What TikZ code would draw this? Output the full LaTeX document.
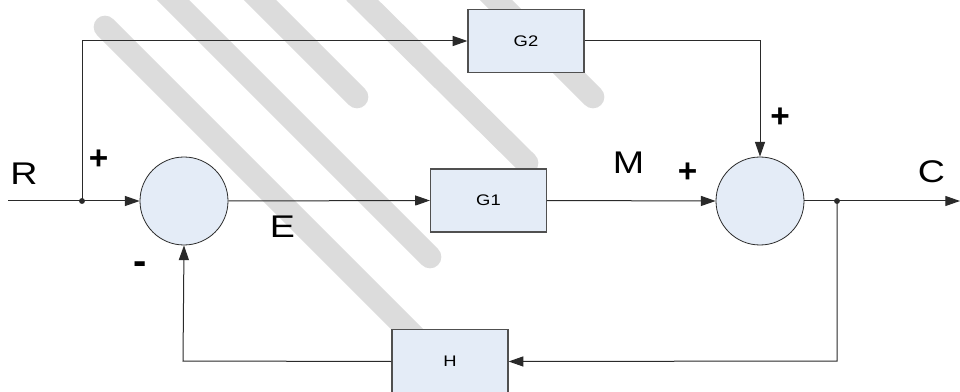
\documentclass[tikz,border=0pt]{standalone}
\usepackage{fontspec}
\setmainfont{Liberation Sans}
\usetikzlibrary{arrows.meta}
\definecolor{boxfill}{HTML}{E4ECF7}
\definecolor{stripec}{HTML}{DCDCDC}
\definecolor{linec}{HTML}{2A2A2A}
\definecolor{boxline}{HTML}{505050}
\newcommand{\wtxt}[1]{\scalebox{1.2}[1]{#1}}
\begin{document}
\begin{tikzpicture}[x=0.75pt,y=-0.75pt,
  blk/.style={draw=boxline, fill=boxfill, line width=0.9pt, minimum width=87pt, minimum height=47.25pt, inner sep=0pt, font=\fontsize{11.5}{13}\selectfont},
  sumc/.style={circle, draw=linec, fill=boxfill, line width=0.6pt, minimum size=66pt, inner sep=0pt},
  wire/.style={draw=linec, line width=0.75pt},
  arr/.style={wire, -{Triangle[length=11pt,width=7.5pt]}},
  lbl/.style={font=\fontsize{23.5}{26}\selectfont, inner sep=0pt},
  sgn/.style={font=\fontsize{25}{28}\selectfont\bfseries, inner sep=0pt},
  wm/.style={line width=17pt, line cap=round, draw=stripec}]
\useasboundingbox (0,0) rectangle (960,392);
\fill[white] (0,0) rectangle (960,392);
% watermark stripes
\draw[wm] (105,27) -- (430,352);
\draw[wm] (160,-13) -- (430,257);
\draw[wm] (250,-10) -- (357,97);
\draw[wm] (355,-7) -- (527,163);
\draw[wm] (483,-13) -- (593,97);
% blocks
\node[sumc] (s1) at (184,201) {};
\node[sumc] (s2) at (760,201) {};
\node[blk] (g1) at (488.5,200.5) {\wtxt{G1}};
\node[blk] (g2) at (526,41) {\wtxt{G2}};
\node[blk,minimum height=48pt] (h) at (450,361.5) {\wtxt{H}};
% coordinates
\coordinate (in) at (8,201);
\coordinate (j1) at (82,201);
\coordinate (t1) at (82,41);
\coordinate (t2) at (760,41);
\coordinate (j2) at (837,201);
\coordinate (out) at (960,201);
\coordinate (b1) at (837,361);
\coordinate (b2) at (183,361);
% wires
\draw[wire] (in) -- (j1);
\draw[arr] (j1) -- (s1.west);
\draw[arr] (j1) -- (t1) -- (g2.west);
\draw[arr] (g2.east) -- (t2) -- (s2.north);
\draw[arr] (s1.east) -- (g1.west);
\draw[arr] (g1.east) -- (s2.west);
\draw[wire] (s2.east) -- (j2);
\draw[arr] (j2) -- (out);
\draw[arr] (j2) -- (b1) -- (h.east);
\draw[arr] (h.west) -- (b2) -- (s1.south);
\fill[linec] (j1) circle (2.2pt);
\fill[linec] (j2) circle (2.2pt);
% labels
\node[lbl] (lR) at (24,174) {\wtxt{R}};
\node[lbl] (lE) at (282.5,226.5) {\wtxt{E}};
\node[lbl] (lM) at (628.5,162.5) {\wtxt{M}};
\node[lbl] (lC) at (931.5,171.5) {\wtxt{C}};
\node[sgn] (p1) at (98.5,160) {+};
\node[sgn] (p2) at (687.5,172.5) {+};
\node[sgn] (p3) at (780,117.5) {+};
\node[sgn,font=\fontsize{30}{30}\selectfont\bfseries] (m1) at (140,268.5) {-};
\end{tikzpicture}
\end{document}
